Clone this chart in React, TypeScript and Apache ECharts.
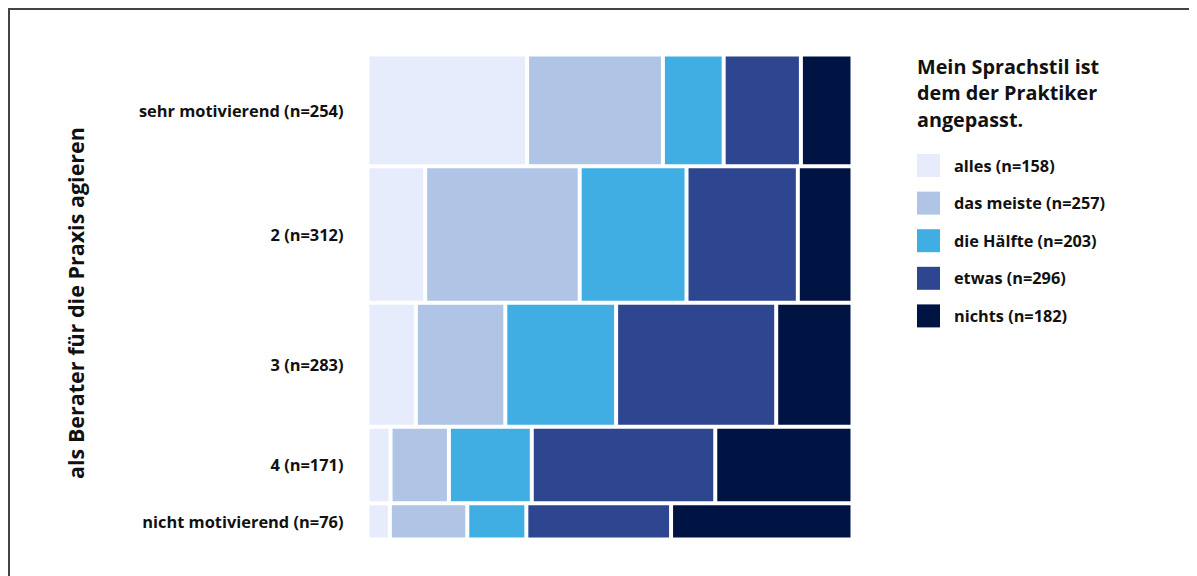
import React, { useEffect, useRef } from "react";
import * as echarts from "echarts";

const rowLabels = ["sehr motivierend (n=254)", "2 (n=312)", "3 (n=283)", "4 (n=171)", "nicht motivierend (n=76)"];
const rowTotals = [254, 312, 283, 171, 76];
const seriesNames = ["alles (n=158)", "das meiste (n=257)", "die Hälfte (n=203)", "etwas (n=296)", "nichts (n=182)"];
const colors = ["#E6ECFC", "#B0C5E6", "#41AEE3", "#2E4590", "#001443"];
// counts per response category, one value per row
const alles = [85, 36, 27, 7, 3];
const dasMeiste = [72, 101, 52, 20, 12];
const haelfte = [31, 69, 65, 29, 9];
const etwas = [40, 72, 95, 66, 23];
const nichts = [26, 34, 44, 49, 29];
const counts = [alles, dasMeiste, haelfte, etwas, nichts];

const legendTitle = "Mein Sprachstil ist\ndem der Praktiker\nangepasst.";
const yTitle = "als Berater für die Praxis agieren";

const FONT = "'Open Sans', sans-serif";

export default function App() {
  const ref = useRef<HTMLDivElement>(null);
  useEffect(() => {
    if (!ref.current) return;
    const chart = echarts.init(ref.current, null, { renderer: "svg" });
    const grandTotal = rowTotals.reduce((a, b) => a + b, 0);
    const gapFrac = 4 / 465; // gap between tiles, as a share of the tile area
    const gapY = grandTotal * gapFrac;
    const gapX = gapFrac;
    const rowStart: number[] = [];
    let acc = 0;
    rowTotals.forEach((t, i) => {
      rowStart.push(acc + i * gapY);
      acc += t;
    });
    const yMax = grandTotal + (rowTotals.length - 1) * gapY;
    const xMax = 1 + (counts.length - 1) * gapX;

    const series: any[] = counts.map((arr, ci) => {
      const data = arr.map((v, ri) => {
        let before = 0;
        for (let k = 0; k < ci; k++) before += counts[k][ri];
        const x0 = before / rowTotals[ri] + ci * gapX;
        const x1 = x0 + v / rowTotals[ri];
        const y0 = rowStart[ri];
        const y1 = rowStart[ri] + rowTotals[ri];
        return [x0, x1, y0, y1, ri];
      });
      return {
        type: "custom",
        name: seriesNames[ci],
        color: colors[ci],
        itemStyle: { color: colors[ci] },
        data,
        encode: { x: [0, 1], y: [2, 3] },
        renderItem: (params: any, api: any) => {
          const p0 = api.coord([api.value(0), api.value(2)]);
          const p1 = api.coord([api.value(1), api.value(3)]);
          const children: any[] = [
            {
              type: "rect",
              shape: {
                x: p0[0],
                y: p0[1],
                width: Math.max(0, p1[0] - p0[0]),
                height: Math.max(0, p1[1] - p0[1]),
              },
              style: { fill: colors[ci] },
            },
          ];
          if (ci === 0) {
            const ri = api.value(4);
            children.push({
              type: "text",
              x: params.coordSys.x - 26,
              y: (p0[1] + p1[1]) / 2,
              style: {
                text: rowLabels[ri],
                align: "right",
                verticalAlign: "middle",
                fill: "#111",
                font: `bold 16.4px ${FONT}`,
              },
            });
          }
          return { type: "group", children };
        },
      };
    });

    chart.setOption({
      animation: false,
      grid: { left: 361.5, top: 48.5, width: 481, height: 481 },
      xAxis: { type: "value", min: 0, max: xMax, show: false },
      yAxis: { type: "value", min: 0, max: yMax, inverse: true, show: false },
      title: {
        text: legendTitle,
        left: 904,
        top: 40,
        textStyle: { fontFamily: FONT, fontWeight: "bold", fontSize: 19.8, lineHeight: 26.5, color: "#111" },
      },
      legend: {
        orient: "vertical",
        left: 904,
        top: 141,
        itemWidth: 23,
        itemHeight: 23,
        itemGap: 14.6,
        icon: "rect",
        selectedMode: false,
        data: seriesNames.map((n, i) => ({ name: n, itemStyle: { color: colors[i] } })),
        textStyle: { fontFamily: FONT, fontWeight: "bold", fontSize: 16.3, color: "#111", padding: [0, 0, 0, 9] },
      },
      graphic: [
        { type: "line", shape: { x1: 0, y1: 1, x2: 1189, y2: 1 }, style: { stroke: "#444", lineWidth: 2 } },
        { type: "line", shape: { x1: 1, y1: 0, x2: 1, y2: 568 }, style: { stroke: "#444", lineWidth: 2 } },
        {
          type: "text",
          x: 67,
          y: 295,
          rotation: Math.PI / 2,
          style: {
            text: yTitle,
            align: "center",
            verticalAlign: "middle",
            fill: "#111",
            font: `bold 21.5px ${FONT}`,
          },
        },
      ],
      series,
    });
    return () => chart.dispose();
  }, []);
  return <div ref={ref} style={{ width: 1189, height: 568 }} />;
}
